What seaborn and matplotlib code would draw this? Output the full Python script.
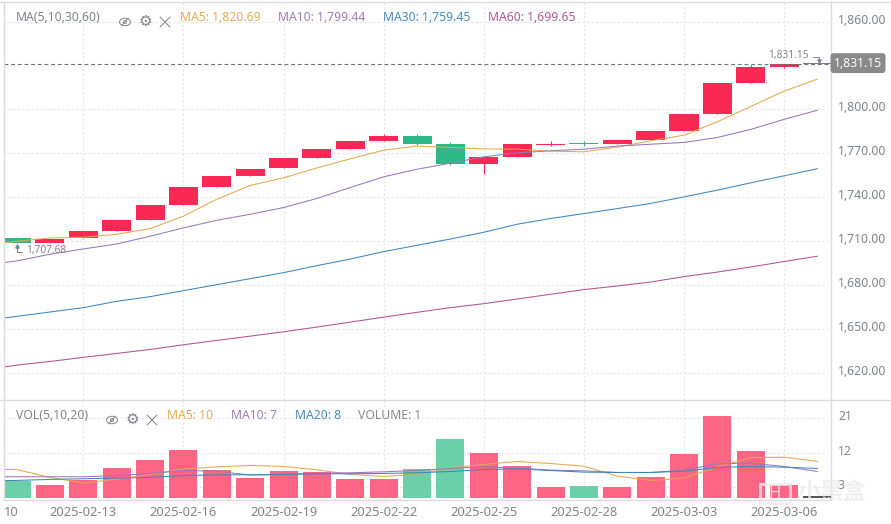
import matplotlib
matplotlib.use("Agg")
import matplotlib.pyplot as plt
from matplotlib.patches import Ellipse, Circle, Rectangle
import numpy as np
import pandas as pd
import seaborn as sns

# ---------- data ----------
idx = list(range(25))
line_idx = list(range(-1, 25))
date_positions = [2, 5, 8, 11, 14, 17, 20, 23]
date_labels = ["2025-02-13", "2025-02-16", "2025-02-19", "2025-02-22",
               "2025-02-25", "2025-02-28", "2025-03-03", "2025-03-06"]
price_ticks = [1620, 1650, 1680, 1710, 1740, 1770, 1800, 1860]
vol_ticks = [3, 12, 21]

opens = [1711.9, 1708.5, 1712.1, 1716.9, 1724.2, 1734.5, 1746.8, 1754.3, 1759.8, 1766.7,
         1772.8, 1778.3, 1781.7, 1776.2, 1762.6, 1767.4, 1775.7, 1776.7, 1776.2, 1779.0,
         1785.1, 1796.8, 1818.0, 1829.0, 1831.15]
closes = [1708.7, 1711.4, 1716.7, 1724.2, 1734.5, 1746.8, 1754.3, 1759.1, 1766.7, 1772.8,
          1778.3, 1781.7, 1776.2, 1762.6, 1767.4, 1776.2, 1776.1, 1776.1, 1779.0, 1785.1,
          1796.8, 1818.0, 1829.0, 1831.15, 1831.15]
highs = [1712.8, 1711.4, 1716.7, 1724.2, 1734.5, 1746.8, 1754.3, 1759.1, 1766.7, 1772.8,
         1778.3, 1783.1, 1783.1, 1777.4, 1767.4, 1776.2, 1778.1, 1778.1, 1779.0, 1785.1,
         1796.8, 1818.0, 1830.1, 1831.15, 1831.15]
lows = [1708.7, 1708.5, 1712.1, 1716.9, 1724.2, 1734.5, 1746.8, 1754.3, 1759.8, 1766.7,
        1772.8, 1778.3, 1775.4, 1761.9, 1755.9, 1767.4, 1775.1, 1774.9, 1776.2, 1779.0,
        1785.1, 1796.8, 1818.0, 1828.3, 1831.15]

ma5 = [1707.0, 1709.9, 1712.1, 1712.6, 1714.6, 1718.5, 1727.0, 1738.6, 1748.0, 1753.2, 1760.0,
       1766.2, 1772.1, 1774.9, 1774.0, 1773.0, 1772.8, 1771.5, 1771.0, 1774.2, 1778.5,
       1782.4, 1791.5, 1802.0, 1812.5, 1820.69]
ma10 = [1693.4, 1696.4, 1701.0, 1704.6, 1708.0, 1713.3, 1719.0, 1724.2, 1728.3, 1732.9, 1739.1,
        1746.6, 1753.9, 1759.1, 1763.2, 1767.6, 1770.3, 1771.7, 1772.8, 1774.9, 1776.2,
        1777.4, 1780.8, 1786.3, 1793.2, 1799.44]
ma30 = [1655.6, 1658.5, 1661.5, 1664.5, 1668.8, 1672.0, 1676.1, 1680.2, 1684.3, 1688.4, 1693.2,
        1697.7, 1702.8, 1707.1, 1711.4, 1716.0, 1721.5, 1725.4, 1728.8, 1732.2, 1735.7,
        1740.2, 1744.8, 1749.8, 1754.6, 1759.45]
ma60 = [1621.8, 1625.2, 1627.7, 1630.5, 1633.2, 1635.9, 1639.1, 1642.1, 1645.0, 1648.0, 1651.2,
        1654.6, 1658.0, 1661.3, 1664.5, 1667.2, 1670.4, 1673.6, 1676.8, 1679.3, 1682.0,
        1685.7, 1688.8, 1692.3, 1696.0, 1699.65]

volume = [4.7, 3.6, 4.9, 8.0, 10.05, 12.6, 7.5, 5.5, 7.2, 7.0, 5.2, 5.2, 7.7, 15.5, 11.9,
          8.5, 3.1, 3.3, 3.1, 5.7, 11.6, 21.4, 12.4, 3.6, 0.75]
vma5 = [7.7, 7.64, 5.57, 4.11, 5.14, 6.35, 7.73, 8.33, 8.67, 8.42, 7.55, 6.35, 5.83, 6.35, 8.07,
        8.93, 9.71, 9.19, 8.50, 5.92, 4.80, 5.40, 8.33, 10.74, 10.83, 9.71]
vma10 = [5.75, 5.75, 5.75, 5.75, 6.0, 6.61, 7.38, 7.21, 6.18, 6.35, 6.69, 6.78, 7.04, 7.38, 7.90,
         8.33, 7.98, 7.47, 7.30, 6.86, 6.86, 7.47, 9.10, 9.28, 8.42, 7.12]
vma20 = [4.7, 4.80, 5.06, 5.23, 5.40, 5.57, 6.09, 6.26, 6.26, 6.35, 6.52, 6.52, 6.61, 6.78, 7.12,
         7.64, 7.81, 7.38, 6.95, 6.86, 6.86, 7.21, 8.16, 8.42, 8.24, 7.90]

last_price = 1831.15
low_label = "1,707.68"
legend_price = ["MA5: 1,820.69", "MA10: 1,799.44", "MA30: 1,759.45", "MA60: 1,699.65"]
legend_vol = ["MA5: 10", "MA10: 7", "MA20: 8", "VOLUME: 1"]

# ---------- style ----------
sns.set_theme(style="white")
plt.rcParams["font.family"] = ["Noto Sans", "Noto Sans CJK SC", "DejaVu Sans"]
plt.rcParams["axes.unicode_minus"] = False

RED, GREEN, FLAT = "#f92855", "#2db887", "#777b82"
VRED, VGREEN, VFLAT = "#fc6583", "#6bd0aa", "#555555"
C5, C10, C30, C60 = "#e8a74e", "#9a78b8", "#3f86bd", "#b2528c"
TXT, BORDER, GRID = "#80848d", "#dcdcdc", "#e6e6e6"
W, H = 891, 524
LW = 0.75


def rect(l, t, r, b):
    return [l / W, 1 - b / H, (r - l) / W, (b - t) / H]


fig = plt.figure(figsize=(W / 100, H / 100), dpi=100, facecolor="white")
ax = fig.add_axes(rect(3.5, 2, 830.5, 399.5))
vax = fig.add_axes(rect(3.5, 399.5, 830.5, 500))
ov = fig.add_axes([0, 0, 1, 1], zorder=10)
ov.set_xlim(0, W)
ov.set_ylim(H, 0)
ov.axis("off")
ov.patch.set_alpha(0)

XLIM = (-0.393, 24.39)
for a in (ax, vax):
    a.set_axisbelow(True)
    a.grid(True, color=GRID, lw=0.8, linestyle=(0, (2, 2)))
    a.set_xticks(date_positions)
    a.set_xticklabels([])
    a.tick_params(length=0, labelleft=False, labelbottom=False)
    for s in a.spines.values():
        s.set_visible(False)

# ---------- candles ----------
colors = []
for o, c in zip(opens, closes):
    colors.append(FLAT if o == c else (RED if c > o else GREEN))
bottoms = [min(o, c) for o, c in zip(opens, closes)]
heights = [max(abs(c - o), 0.6) for o, c in zip(opens, closes)]
ax.vlines(idx, lows, highs, colors=colors, lw=0.8, zorder=2)
ax.bar(idx, heights, bottom=bottoms, width=0.87, color=colors, lw=0, zorder=2)

ax.axhline(last_price, color="#6f7278", lw=0.8, linestyle=(0, (3.5, 2.5)), zorder=3)
for vals, col in ((ma5, C5), (ma10, C10), (ma30, C30), (ma60, C60)):
    sns.lineplot(x=line_idx, y=vals, ax=ax, color=col, lw=LW, errorbar=None, zorder=4)
ax.set_xlim(*XLIM)
ax.set_ylim(1601.7, 1873.4)
ax.set_yticks(price_ticks)
ax.set_xlabel("")
ax.set_ylabel("")

# ---------- volume ----------
direction = ["flat" if o == c else ("up" if c > o else "down") for o, c in zip(opens, closes)]
vdf = pd.DataFrame({"i": idx, "volume": volume, "dir": direction})
sns.barplot(data=vdf, x="i", y="volume", hue="dir", native_scale=True, dodge=False,
            palette={"up": VRED, "down": VGREEN, "flat": VFLAT}, width=0.84, saturation=1,
            legend=False, ax=vax, linewidth=0, zorder=2)
vax.axhspan(-0.3, 0.3, color="white", lw=0, zorder=3)
for vals, col in ((vma5, C5), (vma10, C10), (vma20, C30)):
    sns.lineplot(x=line_idx, y=vals, ax=vax, color=col, lw=LW, errorbar=None, zorder=4)
vax.set_xlim(*XLIM)
vax.set_ylim(-0.28, 25.8)
vax.set_yticks(vol_ticks)
vax.set_xticks(date_positions)
vax.set_xticklabels([])
vax.set_xlabel("")
vax.set_ylabel("")

# ---------- frame ----------
ov.plot([0, W], [1.5, 1.5], color=BORDER, lw=1)
ov.plot([0, W], [399.5, 399.5], color=BORDER, lw=1)
ov.plot([3.5, 830.5], [500, 500], color=BORDER, lw=1)
ov.plot([3.5, 3.5], [1.5, 500], color=BORDER, lw=1)
ov.plot([830.5, 830.5], [1.5, 500], color=BORDER, lw=1)

# ---------- axis labels (placed from the axes' own scales) ----------
FS = 8.8


def to_ov(a, x, y):
    return ov.transData.inverted().transform(a.transData.transform((x, y)))


for t in price_ticks:
    _, y = to_ov(ax, 0, t)
    ov.text(838, y - 1.4, f"{t:,.2f}", color=TXT, fontsize=FS, va="center", ha="left")
for t in vol_ticks:
    _, y = to_ov(vax, 0, t)
    ov.text(838, y - 1.6, f"{t}", color=TXT, fontsize=FS, va="center", ha="left")
for p, lab in zip(date_positions, date_labels):
    x, _ = to_ov(vax, p, 0)
    ov.text(x, 512, lab, color=TXT, fontsize=9.3, va="center", ha="center")
ov.text(3.5, 512, "10", color=TXT, fontsize=9.3, va="center", ha="left")

_, y_last = to_ov(ax, 0, last_price)
ov.text(858, y_last - 0.7, f"{last_price:,.2f}", color="white", fontsize=FS, va="center", ha="center",
        weight="medium",
        bbox=dict(boxstyle="round,pad=0.28,rounding_size=0.25", fc="#8a8a8a", ec="none"))
ov.text(788, 55.5, f"{last_price:,.2f}", color=TXT, fontsize=7.3, va="center", ha="center")
ov.text(26, 250, low_label, color=TXT, fontsize=7.3, va="center", ha="left")
ov.plot([813, 819, 819], [57, 57, 60], color=TXT, lw=0.7)
ov.plot([819], [60.5], marker="v", ms=2.4, color=TXT)
ov.plot([16.5, 16.5, 22], [246, 252, 252], color=TXT, lw=0.7)
ov.plot([16.5], [246], marker="^", ms=2.4, color=TXT)

# ---------- legends ----------
ov.text(16, 17.5, "MA(5,10,30,60)", color=TXT, fontsize=FS, va="center")
for x, s, c in zip((180, 278, 383, 488), legend_price, (C5, C10, C30, C60)):
    ov.text(x, 17.5, s, color=c, fontsize=FS, va="center", alpha=0.95)
ov.text(16, 415.5, "VOL(5,10,20)", color=TXT, fontsize=FS, va="center")
for x, s, c in zip((167, 231, 295, 358), legend_vol, (C5, C10, C30, TXT)):
    ov.text(x, 415.5, s, color=c, fontsize=FS, va="center", alpha=0.95)


def icons(xe, xg, xx, y):
    ov.add_patch(Ellipse((xe, y), 11, 7.5, fill=False, ec=TXT, lw=0.7))
    ov.add_patch(Circle((xe, y), 1.6, fill=False, ec=TXT, lw=0.6))
    ov.plot([xe - 3.5, xe + 3.5], [y + 4, y - 4], color=TXT, lw=0.6)
    ov.text(xg, y - 0.3, "⚙", color=TXT, fontsize=11, ha="center", va="center",
            family="DejaVu Sans")
    ov.plot([xx - 5, xx + 5], [y - 5, y + 5], color=TXT, lw=0.7)
    ov.plot([xx - 5, xx + 5], [y + 5, y - 5], color=TXT, lw=0.7)


icons(125, 145, 165, 22)
icons(112, 132, 152, 420)

# ---------- watermark ----------
ov.add_patch(Rectangle((760, 484), 30, 19, fc="none", ec="#ececec", lw=2.2, alpha=0.75))
ov.text(775, 493.5, "H", color="#ececec", fontsize=12, weight="bold", ha="center", va="center", alpha=0.8)
ov.text(832, 493, "小黑盒", color="#ececec", fontsize=16.5, ha="center", va="center", alpha=0.75,
        weight="bold", family=["Noto Sans CJK SC", "DejaVu Sans"])

fig.savefig("out.png", dpi=100, facecolor="white")
